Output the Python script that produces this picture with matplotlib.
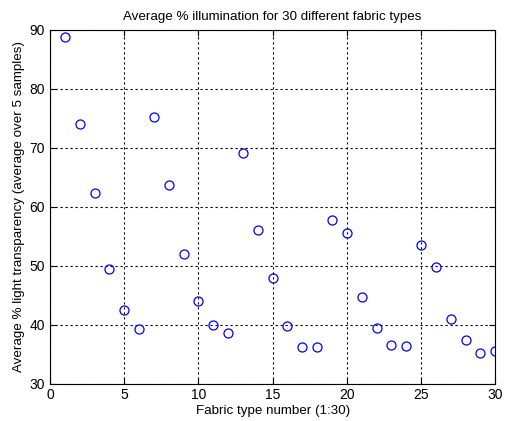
import matplotlib.pyplot as plt

# Fabric type index and measured average illumination (%)
fabric = list(range(1, 31))
transparency = [88.8, 74.0, 62.3, 49.4, 42.4, 39.3, 75.3, 63.7, 52.0, 44.0,
                40.0, 38.6, 69.15, 56.1, 47.9, 39.7, 36.2, 36.2, 57.7, 55.6,
                44.7, 39.5, 36.6, 36.4, 53.5, 49.8, 40.9, 37.4, 35.2, 35.6]
xticks = [0, 5, 10, 15, 20, 25, 30]
yticks = [30, 40, 50, 60, 70, 80, 90]

plt.rcParams['font.family'] = ['Liberation Sans', 'DejaVu Sans']

fig = plt.figure(figsize=(5.06, 4.21), dpi=100)
ax = fig.add_axes([0.0988, 0.089, 0.880, 0.840])

ax.plot(fabric, transparency, 'o', markerfacecolor='none',
        markeredgecolor='blue', markersize=6.5, markeredgewidth=0.9)

ax.set_xlim(0, 30)
ax.set_ylim(30, 90)
ax.set_xticks(xticks)
ax.set_yticks(yticks)
ax.tick_params(direction='in', labelsize=10, top=True, right=True, length=4)
ax.grid(True, color='black', linestyle=(0, (2, 2.5)), linewidth=0.8)

ax.set_title("Average % illumination for 30 different fabric types", fontsize=9.6, pad=7)
ax.set_xlabel("Fabric type number (1:30)", fontsize=9.6, labelpad=2)
ax.set_ylabel("Average % light transparency (average over 5 samples)", fontsize=9.6, labelpad=3)

for s in ax.spines.values():
    s.set_linewidth(0.8)

fig.savefig("out.png", dpi=100)
